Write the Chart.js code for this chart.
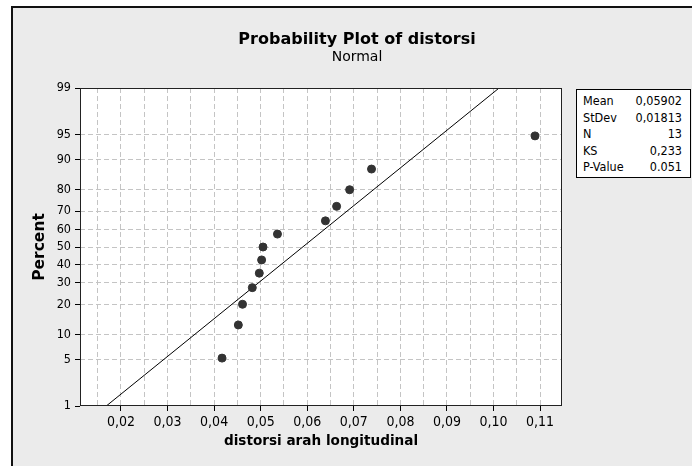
<!DOCTYPE html>
<html>
<head>
<meta charset="utf-8">
<script src="https://cdn.jsdelivr.net/npm/chart.js@4.4.1/dist/chart.umd.min.js"></script>
<style>
    html, body { margin: 0; padding: 0; background: #fff; }
    body { position: relative; width: 692px; height: 466px; overflow: hidden; font-family: "DejaVu Sans Condensed", "DejaVu Sans", sans-serif; }
    #frame { position: absolute; left: 11px; top: 6px; width: 700px; height: 480px; background: #ebebeb; border-left: 2px solid #111; border-top: 2px solid #111; }
    #grafico { position: absolute; left: 0; top: 0; }
    #stats { position: absolute; left: 576px; top: 89px; width: 115px; height: 89px; box-sizing: border-box; background: #fff; border: 1px solid #000; padding: 3px 8px 0 6px; font-size: 12.5px; color: #000; }
    #stats .row { display: flex; justify-content: space-between; line-height: 16.6px; }
</style>
</head>
<body>
<div id="frame"></div>
<canvas id="grafico" width="692" height="466"></canvas>
<div id="stats"></div>
<script>
// Dados
const distorsi = [0.0417, 0.0452, 0.0461, 0.0482, 0.0497, 0.0502, 0.0505, 0.0536, 0.0639, 0.0663, 0.0691, 0.0738, 0.1089];
const percentis = [5.2, 12.7, 20.1, 27.6, 35.1, 42.5, 50.0, 57.5, 64.9, 72.4, 79.9, 87.3, 94.8];

const xTickValues = [0.02, 0.03, 0.04, 0.05, 0.06, 0.07, 0.08, 0.09, 0.10, 0.11];
const xTickLabels = ["0,02", "0,03", "0,04", "0,05", "0,06", "0,07", "0,08", "0,09", "0,10", "0,11"];
const yTickPercents = [1, 5, 10, 20, 30, 40, 50, 60, 70, 80, 90, 95, 99];
const yTickLabels = ["1", "5", "10", "20", "30", "40", "50", "60", "70", "80", "90", "95", "99"];

const statNames = ["Mean", "StDev", "N", "KS", "P-Value"];
const statValues = ["0,05902", "0,01813", "13", "0,233", "0.051"];
const media = 0.05902;
const desvio = 0.01813;

// Inversa da normal (aproximação de Acklam)
function probit(p) {
    const a = [-39.69683028665376, 220.9460984245205, -275.9285104469687, 138.3577518672690, -30.66479806614716, 2.506628277459239];
    const b = [-54.47609879822406, 161.5858368580409, -155.6989798598866, 66.80131188771972, -13.28068155288572];
    const c = [-0.007784894002430293, -0.3223964580411365, -2.400758277161838, -2.549732539343734, 4.374664141464968, 2.938163982698783];
    const d = [0.007784695709041462, 0.3224671290700398, 2.445134137142996, 3.754408661907416];
    const pl = 0.02425;
    let q, r;
    if (p < pl) {
        q = Math.sqrt(-2 * Math.log(p));
        return (((((c[0]*q+c[1])*q+c[2])*q+c[3])*q+c[4])*q+c[5]) / ((((d[0]*q+d[1])*q+d[2])*q+d[3])*q+1);
    }
    if (p > 1 - pl) {
        q = Math.sqrt(-2 * Math.log(1 - p));
        return -(((((c[0]*q+c[1])*q+c[2])*q+c[3])*q+c[4])*q+c[5]) / ((((d[0]*q+d[1])*q+d[2])*q+d[3])*q+1);
    }
    q = p - 0.5; r = q * q;
    return (((((a[0]*r+a[1])*r+a[2])*r+a[3])*r+a[4])*r+a[5])*q / (((((b[0]*r+b[1])*r+b[2])*r+b[3])*r+b[4])*r+1);
}

const zMin = probit(0.01);
const zMax = probit(0.99);

// Pontos e reta ajustada
const pontos = distorsi.map((v, i) => ({ x: v, y: probit(percentis[i] / 100) }));
const reta = [zMin, zMax].map(z => ({ x: media + z * desvio, y: z }));

// Tabela de estatísticas
document.getElementById("stats").innerHTML = statNames.map((n, i) =>
    '<div class="row"><span>' + n + '</span><span>' + statValues[i] + '</span></div>').join("");

function isMajor(v) {
    return xTickValues.some(t => Math.abs(t - v) < 1e-9);
}

// Fundo branco e moldura da área do gráfico
const molduraPlot = {
    id: "molduraPlot",
    beforeDraw(chart) {
        const a = chart.chartArea, ctx = chart.ctx;
        ctx.save();
        ctx.fillStyle = "#fff";
        ctx.fillRect(a.left, a.top, a.right - a.left, a.bottom - a.top);
        ctx.restore();
    },
    afterDraw(chart) {
        const a = chart.chartArea, ctx = chart.ctx;
        ctx.save();
        ctx.strokeStyle = "#222";
        ctx.lineWidth = 1;
        ctx.strokeRect(a.left + 0.5, a.top + 0.5, a.right - a.left - 1, a.bottom - a.top - 1);
        ctx.restore();
    }
};

const ctx = document.getElementById("grafico").getContext("2d");
new Chart(ctx, {
    type: "scatter",
    data: {
        datasets: [
            { label: "Fit", type: "line", data: reta, borderColor: "#000", borderWidth: 1, pointRadius: 0, fill: false, order: 2 },
            { label: "distorsi", data: pontos, backgroundColor: "#333", borderColor: "#333", pointRadius: 4, order: 1 }
        ]
    },
    options: {
        responsive: false,
        animation: false,
        devicePixelRatio: 1,
        layout: { padding: { left: 22, right: 0, top: 0, bottom: 0 } },
        plugins: {
            legend: { display: false },
            tooltip: { enabled: false },
            title: {
                display: true, text: "Probability Plot of distorsi", color: "#000",
                font: { family: "DejaVu Sans", size: 16, weight: "bold", lineHeight: 1.2 },
                padding: { top: 30, bottom: 0 }
            },
            subtitle: {
                display: true, text: "Normal", color: "#000",
                font: { family: "DejaVu Sans", size: 14, lineHeight: 1.2 },
                padding: { top: 0, bottom: 22 }
            }
        },
        scales: {
            x: {
                type: "linear", min: 0.0112, max: 0.1147,
                afterBuildTicks(s) {
                    const t = [];
                    xTickValues.forEach(v => { t.push({ value: v - 0.005 }); t.push({ value: v }); });
                    s.ticks = t;
                },
                afterFit(s) { s.height = 60; },
                ticks: {
                    autoSkip: false, maxRotation: 0, padding: 3, color: "#000",
                    font: { family: "DejaVu Sans Condensed", size: 14 },
                    callback: (v) => {
                        const i = xTickValues.findIndex(t => Math.abs(t - v) < 1e-9);
                        return i >= 0 ? xTickLabels[i] : "";
                    }
                },
                grid: {
                    color: "#c4c4c4", lineWidth: 1, tickLength: 5,
                    tickColor: (c) => (c.tick && isMajor(c.tick.value)) ? "#000" : "rgba(0,0,0,0)"
                },
                border: { display: false, dash: [5, 3] },
                title: {
                    display: true, text: "distorsi arah longitudinal", color: "#000",
                    font: { family: "DejaVu Sans", size: 13.6, weight: "bold", lineHeight: 1.2 },
                    padding: { top: 0, bottom: 16 }
                }
            },
            y: {
                type: "linear", position: "left", min: zMin, max: zMax,
                afterBuildTicks(s) { s.ticks = yTickPercents.map(p => ({ value: probit(p / 100) })); },
                afterFit(s) { s.width = 58; },
                ticks: {
                    autoSkip: false, padding: 4, color: "#000",
                    font: { family: "DejaVu Sans Condensed", size: 12.5 },
                    callback: (v, i) => yTickLabels[i]
                },
                grid: {
                    color: (c) => (c.index === 0 || c.index === yTickPercents.length - 1) ? "rgba(0,0,0,0)" : "#c4c4c4",
                    lineWidth: 1, tickLength: 5, tickColor: "#000"
                },
                border: { display: false, dash: [5, 3] },
                title: {
                    display: true, text: "Percent", color: "#000",
                    font: { family: "DejaVu Sans", size: 15.5, weight: "bold", lineHeight: 1.2 },
                    padding: { top: 8.7, bottom: 0 }
                }
            },
            direita: {
                type: "linear", position: "right",
                afterFit(s) { s.width = 130; },
                ticks: { display: false },
                grid: { display: false },
                border: { display: false }
            }
        }
    },
    plugins: [molduraPlot]
});
</script>
</body>
</html>
